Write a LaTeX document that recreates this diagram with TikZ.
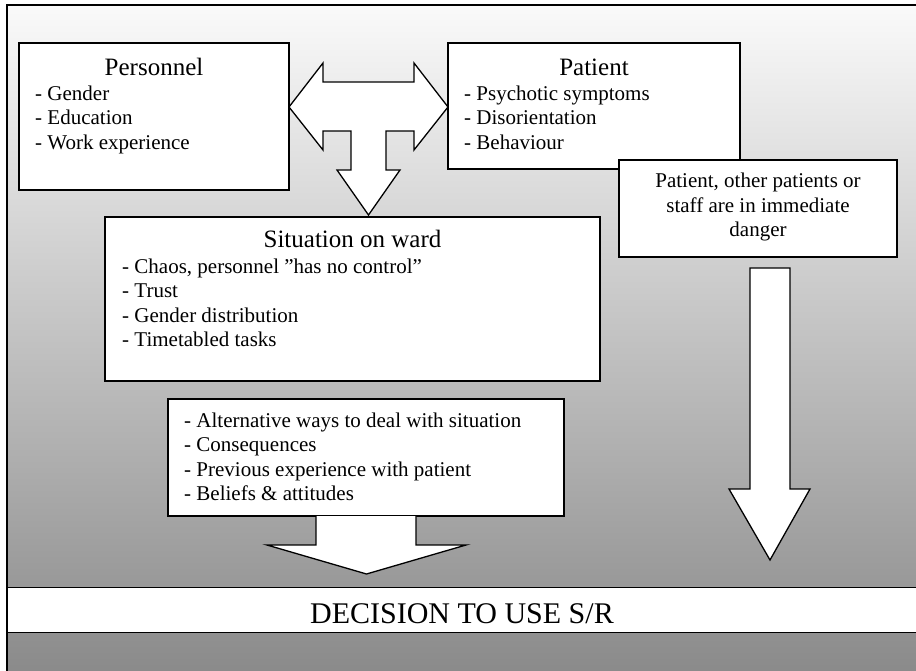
\documentclass[tikz,border=0pt]{standalone}
\usepackage{fontspec}
\setmainfont{Liberation Serif}
\begin{document}
\begin{tikzpicture}[x=1pt,y=-1pt]
\tikzset{
  box/.style={draw=black, line width=1.3pt, fill=white, rectangle, inner sep=0pt},
  ttl/.style={font=\fontsize{25}{30}\selectfont, anchor=base, inner sep=0pt},
  itm/.style={font=\fontsize{21}{24.5}\selectfont, anchor=base west, inner sep=0pt},
  ctr/.style={font=\fontsize{21}{24.5}\selectfont, anchor=base, inner sep=0pt},
  blk/.style={draw=black, line width=1.3pt, fill=white, line join=miter},
}
\useasboundingbox (0,0) rectangle (916,671);

% shaded panel and its frame
\shade[top color=white!98!black, bottom color=black!47] (7,5) rectangle (930,690);
\draw[line width=1.5pt] (7,690) -- (7,5) -- (930,5);

% boxes
\node[box, minimum width=270pt, minimum height=147pt] (pers) at (154,116.5) {};
\node[box, minimum width=292pt, minimum height=126pt] (pat) at (594,106) {};
\node[box, minimum width=278pt, minimum height=97pt] (dang) at (758,208.5) {};
\node[box, minimum width=495pt, minimum height=164pt] (sit) at (352.5,299) {};
\node[box, minimum width=396pt, minimum height=117pt] (alt) at (366,457.5) {};

% Personnel
\node[ttl] (perst) at (154,76) {Personnel};
\node[itm] (p1) at (35,100.7) {- Gender};
\node[itm] (p2) at (35,125) {- Education};
\node[itm] (p3) at (35,149.4) {- Work experience};

% Patient
\node[ttl] (patt) at (594,76) {Patient};
\node[itm] (q1) at (464,100.7) {- Psychotic symptoms};
\node[itm] (q2) at (464,125) {- Disorientation};
\node[itm] (q3) at (464,149.4) {- Behaviour};

% Danger
\node[ctr] (d1) at (758,187.7) {Patient, other patients or};
\node[ctr] (d2) at (758,212.2) {staff are in immediate};
\node[ctr] (d3) at (758,236.7) {danger};

% Situation on ward
\node[ttl] (sitt) at (352.5,248) {Situation on ward};
\node[itm] (s1) at (122,273) {- Chaos, personnel ”has no control”};
\node[itm] (s2) at (122,297.5) {- Trust};
\node[itm] (s3) at (122,322) {- Gender distribution};
\node[itm] (s4) at (122,346.5) {- Timetabled tasks};

% Considerations
\node[itm] (a1) at (184,427) {- Alternative ways to deal with situation};
\node[itm] (a2) at (184,451.5) {- Consequences};
\node[itm] (a3) at (184,476) {- Previous experience with patient};
\node[itm] (a4) at (184,500.5) {- Beliefs \& attitudes};

% T-shaped block arrow between Personnel, Patient and Situation
\draw[blk] (289,107) -- (323,63) -- (323,82) -- (414,82) -- (414,63) -- (448,107)
  -- (414,150) -- (414,131) -- (386,131) -- (386,170) -- (400,170) -- (368.5,215)
  -- (337,170) -- (351,170) -- (351,131) -- (323,131) -- (323,150) -- cycle;

% block arrow from the considerations to the decision
\fill[white] (316,516) -- (316,545) -- (267,545) -- (366.5,574) -- (466,545)
  -- (416,545) -- (416,516) -- cycle;
\draw[blk, fill=none] (316,516) -- (316,545) -- (267,545) -- (366.5,574) -- (466,545)
  -- (416,545) -- (416,516);

% block arrow from the danger box to the decision
\draw[blk] (750,268) -- (790,268) -- (790,489) -- (810,489) -- (770,560)
  -- (729,489) -- (750,489) -- cycle;

% decision band
\node[box, minimum width=930pt, minimum height=45pt, anchor=north west] (dec) at (7,587) {};
\node[font=\fontsize{30}{36}\selectfont, anchor=base, inner sep=0pt] (dect) at (462,623) {DECISION TO USE S/R};
\end{tikzpicture}
\end{document}
